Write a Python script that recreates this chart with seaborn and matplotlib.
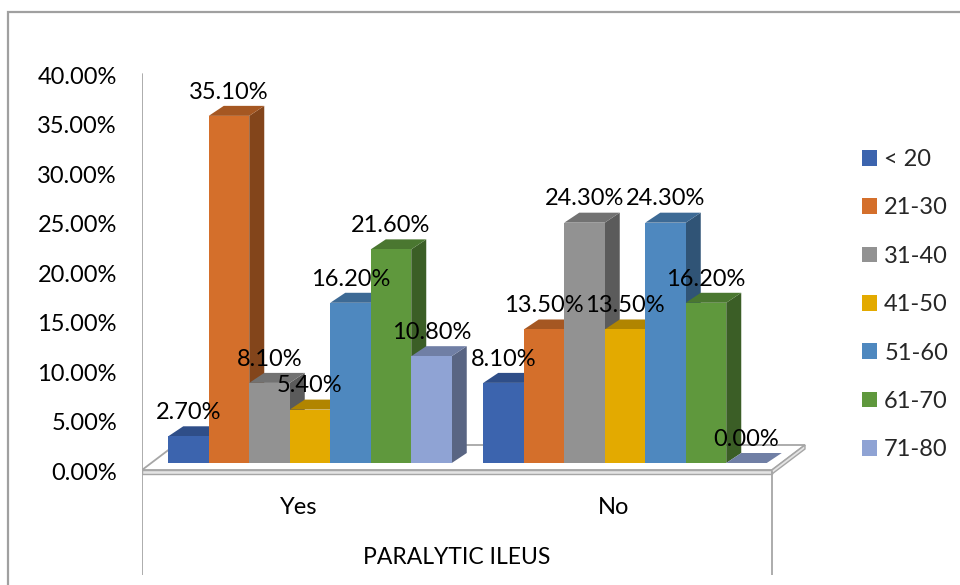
import matplotlib
matplotlib.use("Agg")
import matplotlib.pyplot as plt
import matplotlib.transforms as mtransforms
from matplotlib.patches import Polygon, Rectangle
from matplotlib.lines import Line2D
import seaborn as sns
import pandas as pd

# Age-group distribution by paralytic ileus status (percent)
categories = ["Yes", "No"]
age_groups = ["< 20", "21-30", "31-40", "41-50", "51-60", "61-70", "71-80"]
yes_pct = [2.70, 35.10, 8.10, 5.40, 16.20, 21.60, 10.80]
no_pct = [8.10, 13.50, 24.30, 13.50, 24.30, 16.20, 0.00]
y_ticks = [0, 5, 10, 15, 20, 25, 30, 35, 40]
axis_title = "PARALYTIC ILEUS"

colors = ["#3C64AE", "#D46F2B", "#929292", "#E3AA00", "#4E88BF", "#5F983D", "#8FA3D4"]

rows = []
for cat, vals in zip(categories, [yes_pct, no_pct]):
    for age, v in zip(age_groups, vals):
        rows.append({"ileus": cat, "age": age, "pct": v})
df = pd.DataFrame(rows)

sns.set_theme(style="white")
plt.rcParams["font.family"] = ["Lato", "DejaVu Sans"]
FS = 17

W, H, DPI = 960, 585, 100
fig = plt.figure(figsize=(W / DPI, H / DPI), dpi=DPI)

# plot area in pixel terms
px_left, px_right, px_top, px_bottom = 142, 810, 60, 575
ax = fig.add_axes([px_left / W, 1 - px_bottom / H,
                   (px_right - px_left) / W, (px_bottom - px_top) / H])

# data <-> pixel scale
x_unit = 315.0      # px per category
y_unit = 9.89       # px per percent
x0_px, y0_px = 310, 463

sns.barplot(data=df, x="ileus", y="pct", hue="age", order=categories,
            hue_order=age_groups, palette=colors, width=0.9, gap=0,
            linewidth=0, saturation=1, errorbar=None, ax=ax, legend=True)

ax.set_xlim((px_left - x0_px) / x_unit, (px_right - x0_px) / x_unit)
ax.set_ylim((y0_px - px_bottom) / y_unit, (y0_px - px_top) / y_unit)
ax.set_axis_off()


def shade(c, f):
    return tuple(min(1, max(0, ch * f)) for ch in c[:3])


# 3D depth of the columns
dx, dy = 15 / x_unit, 10 / y_unit

bars = sorted([p for c in ax.containers for p in c], key=lambda p: p.get_x())
for k, bar in enumerate(bars):
    bx, bw, bh = bar.get_x(), bar.get_width(), bar.get_height()
    fc = bar.get_facecolor()
    z = 3 + 0.1 * k
    side = Polygon([(bx + bw, 0), (bx + bw + dx, dy), (bx + bw + dx, bh + dy), (bx + bw, bh)],
                   closed=True, facecolor=shade(fc, 0.62), edgecolor="none", zorder=z)
    top = Polygon([(bx, bh), (bx + bw, bh), (bx + bw + dx, bh + dy), (bx + dx, bh + dy)],
                  closed=True, facecolor=shade(fc, 0.78), edgecolor="none", zorder=z + 0.01)
    ax.add_patch(side)
    ax.add_patch(top)
    bar.set_zorder(z + 0.02)

# floor slab
fx0 = (142 - x0_px) / x_unit
fx1 = (772 - x0_px) / x_unit
fdx = 33 / x_unit
fy_front = (y0_px - 470) / y_unit
fy_back = (y0_px - 445) / y_unit
thick = 4 / y_unit
floor_top = Polygon([(fx0, fy_front), (fx1, fy_front), (fx1 + fdx, fy_back), (fx0 + fdx, fy_back)],
                    closed=True, facecolor="white", edgecolor="#A6A6A6", lw=1.3, zorder=1)
floor_front = Polygon([(fx0, fy_front), (fx1, fy_front), (fx1, fy_front - thick), (fx0, fy_front - thick)],
                      closed=True, facecolor="#E4E4E4", edgecolor="#A6A6A6", lw=1.0, zorder=1.1)
floor_side = Polygon([(fx1, fy_front), (fx1 + fdx, fy_back), (fx1 + fdx, fy_back - thick), (fx1, fy_front - thick)],
                     closed=True, facecolor="#E4E4E4", edgecolor="#A6A6A6", lw=1.0, zorder=1.1)
for p in (floor_top, floor_front, floor_side):
    ax.add_patch(p)

# axis lines and category box
ax_h = px_bottom - px_top
ax_w = px_right - px_left
line_kw = dict(color="#A6A6A6", lw=1.3, transform=ax.transAxes, zorder=2)
ax.add_line(Line2D([0, 0], [0, (px_bottom - 74) / ax_h], **line_kw))
ax.add_line(Line2D([(772 - px_left) / ax_w] * 2, [0, (px_bottom - 472) / ax_h], **line_kw))

# value-axis labels
lbl_tr = ax.get_yaxis_transform() + mtransforms.ScaledTranslation(-25 / DPI, -10 / DPI, fig.dpi_scale_trans)
for t in y_ticks:
    ax.text(0, t, f"{t:.2f}%", transform=lbl_tr, ha="right", va="center",
            fontsize=FS, color="#000000")

# category labels
cat_tr = ax.get_xaxis_transform() + mtransforms.ScaledTranslation(-11 / DPI, 0, fig.dpi_scale_trans)
for i, cat in enumerate(categories):
    ax.text(i, (px_bottom - 507) / ax_h, cat, transform=cat_tr, ha="center", va="center",
            fontsize=FS, color="#000000")
ax.text((457 - px_left) / ax_w, (px_bottom - 557) / ax_h, axis_title, transform=ax.transAxes,
        ha="center", va="center", fontsize=FS - 0.5, color="#000000")

# value labels
for cont in ax.containers:
    texts = ax.bar_label(cont, labels=[f"{v:.2f}%" for v in cont.datavalues],
                         padding=9.5, fontsize=FS, color="#000000")
    for t in texts:
        t.set_zorder(20)

# legend
sns.move_legend(ax, "upper left", bbox_to_anchor=(862 / W, 1 - 149 / H),
                bbox_transform=fig.transFigure, frameon=False, title=None,
                fontsize=FS, handlelength=0.64, handleheight=0.64,
                handletextpad=0.3, labelspacing=1.16, borderpad=0, borderaxespad=0)

# chart border
fig.add_artist(Rectangle((8 / W, -0.02), 1.0, 1 - 12 / H + 0.02, transform=fig.transFigure,
                         fill=False, edgecolor="#A0A0A0", lw=1.6))

fig.savefig("out.png", dpi=DPI, facecolor="white")
